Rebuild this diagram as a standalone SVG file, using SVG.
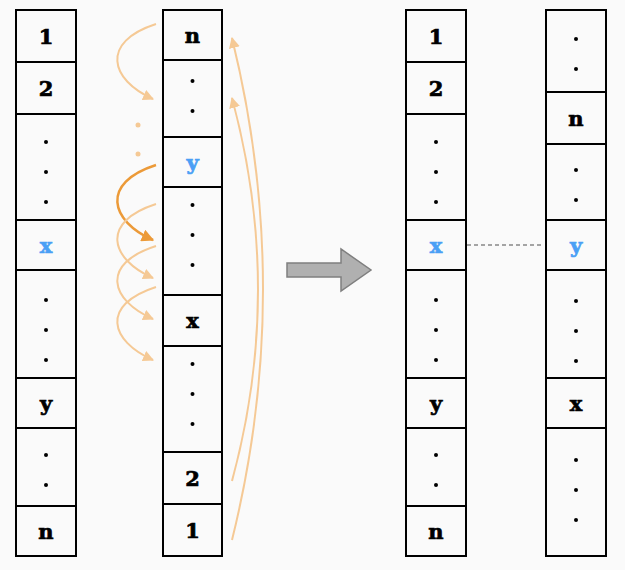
<svg xmlns="http://www.w3.org/2000/svg" width="625" height="570" viewBox="0 0 625 570">
<style>
.cell{fill:#fafafa;stroke:#000;stroke-width:2}
.t{font-family:"DejaVu Serif","Liberation Serif",serif;font-weight:bold;font-size:21px;text-anchor:middle;dominant-baseline:central;fill:#000;stroke:#000;stroke-width:0.7}
.b{fill:#4a9ff5;stroke:#4a9ff5}
.dot{fill:#000}
.lc{fill:none;stroke:#f5c995;stroke-width:2}
.dc{fill:none;stroke:#ec9a38;stroke-width:2.5}
</style>
<defs>
<marker id="ml" viewBox="0 0 10 10" refX="9" refY="5" markerWidth="5.5" markerHeight="5.5" orient="auto" markerUnits="strokeWidth"><path d="M0,0 L10,5 L0,10 Z" fill="#f5c995"/></marker>
<marker id="md" viewBox="0 0 10 10" refX="9" refY="5" markerWidth="5" markerHeight="5" orient="auto" markerUnits="strokeWidth"><path d="M0,0 L10,5 L0,10 Z" fill="#ec9a38"/></marker>
</defs>
<rect width="625" height="570" fill="#fafafa"/>
<g id="col1">
<rect class="cell" x="16" y="10" width="60" height="52"/><text class="t" x="46" y="36">1</text>
<rect class="cell" x="16" y="62" width="60" height="52"/><text class="t" x="46" y="88">2</text>
<rect class="cell" x="16" y="114" width="60" height="106"/><circle class="dot" cx="46" cy="142" r="2"/><circle class="dot" cx="46" cy="172" r="2"/><circle class="dot" cx="46" cy="202" r="2"/>
<rect class="cell" x="16" y="220" width="60" height="50"/><text class="t b" x="46" y="245">x</text>
<rect class="cell" x="16" y="270" width="60" height="108"/><circle class="dot" cx="46" cy="300" r="2"/><circle class="dot" cx="46" cy="330" r="2"/><circle class="dot" cx="46" cy="360" r="2"/>
<rect class="cell" x="16" y="378" width="60" height="50"/><text class="t" x="46" y="403">y</text>
<rect class="cell" x="16" y="428" width="60" height="78"/><circle class="dot" cx="46" cy="455" r="2"/><circle class="dot" cx="46" cy="485" r="2"/>
<rect class="cell" x="16" y="506" width="60" height="50"/><text class="t" x="46" y="531">n</text>
</g>
<g id="col2">
<rect class="cell" x="163" y="10" width="59" height="50"/><text class="t" x="192.5" y="35">n</text>
<rect class="cell" x="163" y="60" width="59" height="77"/><circle class="dot" cx="192.5" cy="81" r="2"/><circle class="dot" cx="192.5" cy="111" r="2"/>
<rect class="cell" x="163" y="137" width="59" height="50"/><text class="t b" x="192.5" y="162">y</text>
<rect class="cell" x="163" y="187" width="59" height="108"/><circle class="dot" cx="192.5" cy="205" r="2"/><circle class="dot" cx="192.5" cy="235" r="2"/><circle class="dot" cx="192.5" cy="265" r="2"/>
<rect class="cell" x="163" y="295" width="59" height="51"/><text class="t" x="192.5" y="320">x</text>
<rect class="cell" x="163" y="346" width="59" height="106"/><circle class="dot" cx="192.5" cy="364" r="2"/><circle class="dot" cx="192.5" cy="394" r="2"/><circle class="dot" cx="192.5" cy="424" r="2"/>
<rect class="cell" x="163" y="452" width="59" height="52"/><text class="t" x="192.5" y="478">2</text>
<rect class="cell" x="163" y="504" width="59" height="52"/><text class="t" x="192.5" y="530">1</text>
</g>
<g id="col3">
<rect class="cell" x="406" y="10" width="60" height="52"/><text class="t" x="436" y="36">1</text>
<rect class="cell" x="406" y="62" width="60" height="52"/><text class="t" x="436" y="88">2</text>
<rect class="cell" x="406" y="114" width="60" height="106"/><circle class="dot" cx="436" cy="142" r="2"/><circle class="dot" cx="436" cy="172" r="2"/><circle class="dot" cx="436" cy="202" r="2"/>
<rect class="cell" x="406" y="220" width="60" height="50"/><text class="t b" x="436" y="245">x</text>
<rect class="cell" x="406" y="270" width="60" height="108"/><circle class="dot" cx="436" cy="300" r="2"/><circle class="dot" cx="436" cy="330" r="2"/><circle class="dot" cx="436" cy="360" r="2"/>
<rect class="cell" x="406" y="378" width="60" height="50"/><text class="t" x="436" y="403">y</text>
<rect class="cell" x="406" y="428" width="60" height="78"/><circle class="dot" cx="436" cy="455" r="2"/><circle class="dot" cx="436" cy="485" r="2"/>
<rect class="cell" x="406" y="506" width="60" height="50"/><text class="t" x="436" y="531">n</text>
</g>
<g id="col4">
<rect class="cell" x="546" y="10" width="60" height="82"/><circle class="dot" cx="576" cy="39" r="2"/><circle class="dot" cx="576" cy="69" r="2"/>
<rect class="cell" x="546" y="92" width="60" height="52"/><text class="t" x="576" y="118">n</text>
<rect class="cell" x="546" y="144" width="60" height="76"/><circle class="dot" cx="576" cy="170" r="2"/><circle class="dot" cx="576" cy="200" r="2"/>
<rect class="cell" x="546" y="220" width="60" height="50"/><text class="t b" x="576" y="245">y</text>
<rect class="cell" x="546" y="270" width="60" height="108"/><circle class="dot" cx="576" cy="301" r="2"/><circle class="dot" cx="576" cy="331" r="2"/><circle class="dot" cx="576" cy="361" r="2"/>
<rect class="cell" x="546" y="378" width="60" height="50"/><text class="t" x="576" y="403">x</text>
<rect class="cell" x="546" y="428" width="60" height="128"/><circle class="dot" cx="576" cy="460" r="2"/><circle class="dot" cx="576" cy="490" r="2"/><circle class="dot" cx="576" cy="520" r="2"/>
</g>
<g id="bigArrow">
<path d="M287,263 L341,263 L341,249 L371,270 L341,291 L341,277 L287,277 Z" fill="#b0b0b0" stroke="#7f7f7f" stroke-width="1.5"/>
</g>
<g id="connectors">
<path class="lc" d="M156,24 C100,42 110,80 153,99" marker-end="url(#ml)"/>
<circle cx="138" cy="125" r="2.5" fill="#f5c995"/>
<circle cx="138" cy="154" r="2.5" fill="#f5c995"/>
<path class="dc" d="M156,165 C100,183 110,221 153,240" marker-end="url(#md)"/>
<path class="lc" d="M156,204 C100,222 110,259 153,278" marker-end="url(#ml)"/>
<path class="lc" d="M156,246 C100,264 110,300 153,319" marker-end="url(#ml)"/>
<path class="lc" d="M156,287 C100,305 110,341 153,360" marker-end="url(#ml)"/>
<path class="lc" d="M232,481 Q284,290 232,98" marker-end="url(#ml)"/>
<path class="lc" d="M232,540 Q294,290 232,38" marker-end="url(#ml)"/>
<line x1="467" y1="245" x2="544" y2="245" stroke="#888" stroke-width="1.5" stroke-dasharray="4,3"/>
</g>
</svg>
